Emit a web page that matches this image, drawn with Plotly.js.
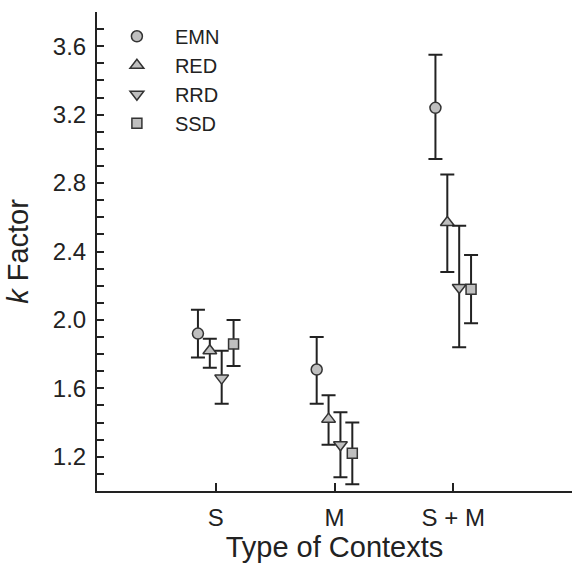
<!DOCTYPE html>
<html>
<head>
<meta charset="utf-8">
<script src="https://cdn.plot.ly/plotly-3.0.1.min.js"></script>
<style>html,body{margin:0;padding:0;background:#fff;}#chart{width:572px;height:563px;}</style>
</head>
<body>
<div id="chart"></div>
<script>
// Categories and series
const contexts = ["S", "M", "S + M"];
const seriesNames = ["EMN", "RED", "RRD", "SSD"];

const emnMean  = [1.92, 1.71, 3.24];
const emnUpper = [2.06, 1.90, 3.55];
const emnLower = [1.78, 1.51, 2.94];

const redMean  = [1.82, 1.42, 2.57];
const redUpper = [1.89, 1.56, 2.85];
const redLower = [1.72, 1.27, 2.28];

const rrdMean  = [1.66, 1.27, 2.19];
const rrdUpper = [1.82, 1.46, 2.55];
const rrdLower = [1.51, 1.08, 1.84];

const ssdMean  = [1.86, 1.22, 2.18];
const ssdUpper = [2.00, 1.40, 2.38];
const ssdLower = [1.73, 1.04, 1.98];

const yTickVals = [1.2, 1.6, 2.0, 2.4, 2.8, 3.2, 3.6];
const yTickText = ["1.2", "1.6", "2.0", "2.4", "2.8", "3.2", "3.6"];

const means  = [emnMean, redMean, rrdMean, ssdMean];
const uppers = [emnUpper, redUpper, rrdUpper, ssdUpper];
const lowers = [emnLower, redLower, rrdLower, ssdLower];
const symbols = ["circle", "triangle-up", "triangle-down", "square"];
const sizes = [11, 12, 12, 10];

const FONT = "Liberation Sans, Arial, sans-serif";

const traces = seriesNames.map((name, i) => ({
  type: "scatter",
  mode: "markers",
  name: name,
  x: contexts,
  y: means[i],
  offsetgroup: name,
  error_y: {
    type: "data",
    symmetric: false,
    array: uppers[i].map((u, j) => u - means[i][j]),
    arrayminus: means[i].map((m, j) => m - lowers[i][j]),
    color: "#222222",
    thickness: 2,
    width: 7
  },
  marker: {
    symbol: symbols[i],
    size: sizes[i],
    color: "#bfbfbf",
    line: { color: "#333333", width: 1.5 }
  }
}));

const layout = {
  width: 572,
  height: 563,
  margin: { l: 97, r: 0, t: 12, b: 72 },
  paper_bgcolor: "#ffffff",
  plot_bgcolor: "#ffffff",
  font: { family: FONT, color: "#222222", size: 24 },
  scattermode: "group",
  scattergap: 0.6,
  showlegend: true,
  legend: {
    x: 0.004, y: 0.99, xanchor: "left", yanchor: "top",
    bgcolor: "rgba(0,0,0,0)",
    font: { family: FONT, size: 20, color: "#222222" },
    itemwidth: 66,
    tracegroupgap: 0
  },
  xaxis: {
    type: "category",
    range: [-1, 3],
    showline: true, linecolor: "#222222", linewidth: 2,
    ticks: "inside", ticklen: 8, tickwidth: 2, tickcolor: "#222222",
    showgrid: false, zeroline: false,
    tickfont: { family: FONT, size: 24, color: "#222222" },
    ticklabelstandoff: 4,
    title: { text: "Type of Contexts", font: { family: FONT, size: 29, color: "#222222" }, standoff: 4 }
  },
  yaxis: {
    range: [1.0, 3.8],
    showline: true, linecolor: "#222222", linewidth: 2,
    ticks: "inside", ticklen: 7, tickwidth: 2, tickcolor: "#222222",
    tickvals: yTickVals, ticktext: yTickText,
    minor: { dtick: 0.1, tick0: 1.0, ticks: "inside", ticklen: 7, tickwidth: 2, tickcolor: "#222222" },
    showgrid: false, zeroline: false,
    tickfont: { family: FONT, size: 24, color: "#222222" },
    ticklabelstandoff: 4,
    title: { text: "<i>k</i> Factor", font: { family: FONT, size: 29, color: "#222222" }, standoff: 16 }
  }
};

Plotly.newPlot("chart", traces, layout, { displayModeBar: false, staticPlot: true });
</script>
</body>
</html>
